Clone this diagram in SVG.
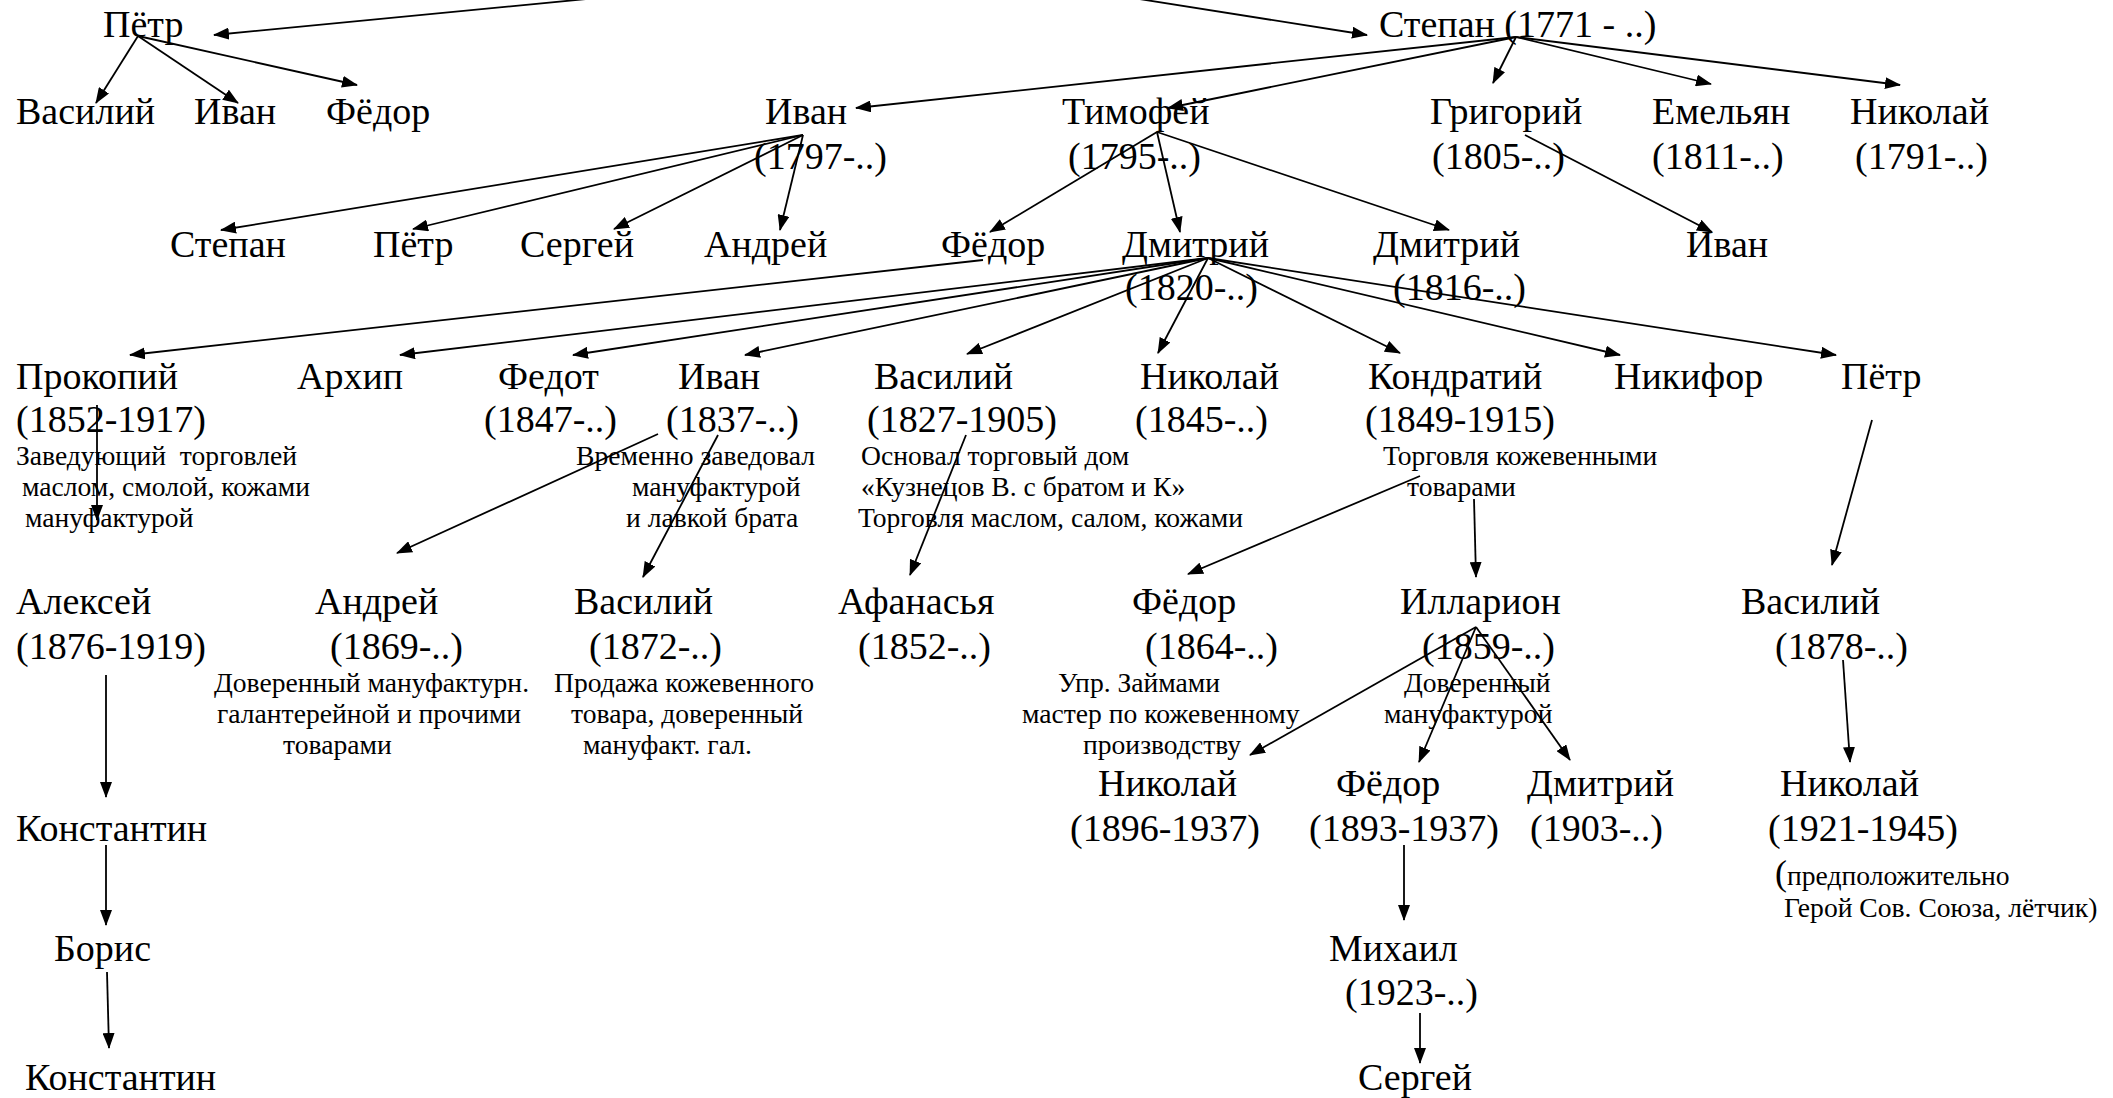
<svg xmlns="http://www.w3.org/2000/svg" width="2113" height="1098" viewBox="0 0 2113 1098">
<defs>
<style>
text{font-family:"Liberation Serif","Times New Roman",serif;fill:#000}
.n{font-size:38px}
.s{font-size:27.6px}
.c line{stroke:#000;stroke-width:1.8;marker-end:url(#ah)}
</style>
<marker id="ah" markerUnits="userSpaceOnUse" markerWidth="16" markerHeight="12" refX="15" refY="6" orient="auto" viewBox="0 0 16 12">
<path d="M0,0 L16,6 L0,12 z" fill="#000"/>
</marker>
</defs>
<rect width="2113" height="1098" fill="#fff"/>

<g class="c" id="connectors">
<line x1="628" y1="-5" x2="214" y2="35"/>
<line x1="1114" y1="-5" x2="1367" y2="35"/>
<line x1="138" y1="36" x2="96" y2="103"/>
<line x1="138" y1="36" x2="238" y2="103"/>
<line x1="138" y1="36" x2="357" y2="85"/>
<line x1="1516" y1="37" x2="856" y2="108"/>
<line x1="1516" y1="37" x2="1168" y2="108"/>
<line x1="1516" y1="37" x2="1493" y2="83"/>
<line x1="1516" y1="37" x2="1711" y2="84"/>
<line x1="1516" y1="37" x2="1900" y2="85"/>
<line x1="803" y1="135" x2="221" y2="230"/>
<line x1="803" y1="135" x2="413" y2="229"/>
<line x1="803" y1="135" x2="614" y2="229"/>
<line x1="803" y1="135" x2="780" y2="230"/>
<line x1="1157" y1="132" x2="990" y2="232"/>
<line x1="1157" y1="132" x2="1180" y2="232"/>
<line x1="1157" y1="132" x2="1449" y2="230"/>
<line x1="1525" y1="135" x2="1712" y2="232"/>
<line x1="983" y1="260" x2="130" y2="355"/>
<line x1="1208" y1="258" x2="400" y2="355"/>
<line x1="1208" y1="258" x2="573" y2="355"/>
<line x1="1208" y1="258" x2="745" y2="355"/>
<line x1="1208" y1="258" x2="967" y2="354"/>
<line x1="1208" y1="258" x2="1158" y2="353"/>
<line x1="1208" y1="258" x2="1400" y2="353"/>
<line x1="1208" y1="258" x2="1620" y2="355"/>
<line x1="1208" y1="258" x2="1836" y2="355"/>
<line x1="97" y1="405" x2="97" y2="520"/>
<line x1="658" y1="434" x2="397" y2="553"/>
<line x1="718" y1="435" x2="643" y2="577"/>
<line x1="966" y1="435" x2="910" y2="575"/>
<line x1="1420" y1="476" x2="1188" y2="574"/>
<line x1="1474" y1="499" x2="1476" y2="577"/>
<line x1="1872" y1="420" x2="1832" y2="565"/>
<line x1="106" y1="675" x2="106" y2="797"/>
<line x1="106" y1="845" x2="106" y2="925"/>
<line x1="107" y1="972" x2="109" y2="1048"/>
<line x1="1476" y1="627" x2="1250" y2="755"/>
<line x1="1476" y1="627" x2="1419" y2="762"/>
<line x1="1476" y1="627" x2="1570" y2="760"/>
<line x1="1404" y1="845" x2="1404" y2="920"/>
<line x1="1420" y1="1013" x2="1420" y2="1063"/>
<line x1="1843" y1="660" x2="1850" y2="762"/>
</g>

<g id="n-petr0"><text class="n" x="103" y="37">Пётр</text></g>
<g id="n-stepan0"><text class="n" x="1379" y="37">Степан (1771 - ..)</text></g>

<g id="n-vasiliy1"><text class="n" x="16" y="124">Василий</text></g>
<g id="n-ivan1a"><text class="n" x="194" y="124">Иван</text></g>
<g id="n-fedor1"><text class="n" x="326" y="124">Фёдор</text></g>
<g id="n-ivan1b"><text class="n" x="765" y="124">Иван</text><text class="n" x="754" y="169">(1797-..)</text></g>
<g id="n-timofey"><text class="n" x="1062" y="124">Тимофей</text><text class="n" x="1068" y="169">(1795-..)</text></g>
<g id="n-grigoriy"><text class="n" x="1430" y="124">Григорий</text><text class="n" x="1432" y="169">(1805-..)</text></g>
<g id="n-emelyan"><text class="n" x="1652" y="124">Емельян</text><text class="n" x="1652" y="169">(1811-..)</text></g>
<g id="n-nikolay1"><text class="n" x="1850" y="124">Николай</text><text class="n" x="1855" y="169">(1791-..)</text></g>

<g id="n-stepan2"><text class="n" x="170" y="257">Степан</text></g>
<g id="n-petr2"><text class="n" x="373" y="257">Пётр</text></g>
<g id="n-sergey2"><text class="n" x="520" y="257">Сергей</text></g>
<g id="n-andrey2"><text class="n" x="704" y="257">Андрей</text></g>
<g id="n-fedor2"><text class="n" x="941" y="257">Фёдор</text></g>
<g id="n-dmitriy2a"><text class="n" x="1122" y="257">Дмитрий</text><text class="n" x="1125" y="300">(1820-..)</text></g>
<g id="n-dmitriy2b"><text class="n" x="1373" y="257">Дмитрий</text><text class="n" x="1393" y="300">(1816-..)</text></g>
<g id="n-ivan2"><text class="n" x="1686" y="257">Иван</text></g>

<g id="n-prokopiy"><text class="n" x="16" y="389">Прокопий</text><text class="n" x="16" y="432">(1852-1917)</text>
<text class="s" x="16" y="465" xml:space="preserve">Заведующий  торговлей</text><text class="s" x="22" y="496">маслом, смолой, кожами</text><text class="s" x="25" y="527">мануфактурой</text></g>
<g id="n-arhip"><text class="n" x="297" y="389">Архип</text></g>
<g id="n-fedot"><text class="n" x="498" y="389">Федот</text><text class="n" x="484" y="432">(1847-..)</text></g>
<g id="n-ivan3"><text class="n" x="678" y="389">Иван</text><text class="n" x="666" y="432">(1837-..)</text>
<text class="s" x="576" y="465">Временно заведовал</text><text class="s" x="632" y="496">мануфактурой</text><text class="s" x="626" y="527">и лавкой брата</text></g>
<g id="n-vasiliy3"><text class="n" x="874" y="389">Василий</text><text class="n" x="867" y="432">(1827-1905)</text>
<text class="s" x="861" y="465">Основал торговый дом</text><text class="s" x="861" y="496">«Кузнецов В. с братом и К»</text><text class="s" x="858" y="527">Торговля маслом, салом, кожами</text></g>
<g id="n-nikolay3"><text class="n" x="1140" y="389">Николай</text><text class="n" x="1135" y="432">(1845-..)</text></g>
<g id="n-kondratiy"><text class="n" x="1368" y="389">Кондратий</text><text class="n" x="1365" y="432">(1849-1915)</text>
<text class="s" x="1383" y="465">Торговля кожевенными</text><text class="s" x="1407" y="496">товарами</text></g>
<g id="n-nikifor"><text class="n" x="1614" y="389">Никифор</text></g>
<g id="n-petr3"><text class="n" x="1841" y="389">Пётр</text></g>

<g id="n-aleksey"><text class="n" x="16" y="614">Алексей</text><text class="n" x="16" y="659">(1876-1919)</text></g>
<g id="n-andrey4"><text class="n" x="315" y="614">Андрей</text><text class="n" x="330" y="659">(1869-..)</text>
<text class="s" x="214" y="692">Доверенный мануфактурн.</text><text class="s" x="217" y="723">галантерейной и прочими</text><text class="s" x="283" y="754">товарами</text></g>
<g id="n-vasiliy4"><text class="n" x="574" y="614">Василий</text><text class="n" x="589" y="659">(1872-..)</text>
<text class="s" x="554" y="692">Продажа кожевенного</text><text class="s" x="571" y="723">товара, доверенный</text><text class="s" x="583" y="754">мануфакт. гал.</text></g>
<g id="n-afanasya"><text class="n" x="838" y="614">Афанасья</text><text class="n" x="858" y="659">(1852-..)</text></g>
<g id="n-fedor4"><text class="n" x="1132" y="614">Фёдор</text><text class="n" x="1145" y="659">(1864-..)</text>
<text class="s" x="1058" y="692">Упр. Займами</text><text class="s" x="1022" y="723">мастер по кожевенному</text><text class="s" x="1083" y="754">производству</text></g>
<g id="n-illarion"><text class="n" x="1400" y="614">Илларион</text><text class="n" x="1422" y="659">(1859-..)</text>
<text class="s" x="1404" y="692">Доверенный</text><text class="s" x="1384" y="723">мануфактурой</text></g>
<g id="n-vasiliy4b"><text class="n" x="1741" y="614">Василий</text><text class="n" x="1775" y="659">(1878-..)</text></g>

<g id="n-konstantin5"><text class="n" x="16" y="841">Константин</text></g>
<g id="n-nikolay5a"><text class="n" x="1098" y="796">Николай</text><text class="n" x="1070" y="841">(1896-1937)</text></g>
<g id="n-fedor5"><text class="n" x="1336" y="796">Фёдор</text><text class="n" x="1309" y="841">(1893-1937)</text></g>
<g id="n-dmitriy5"><text class="n" x="1527" y="796">Дмитрий</text><text class="n" x="1530" y="841">(1903-..)</text></g>
<g id="n-nikolay5b"><text class="n" x="1780" y="796">Николай</text><text class="n" x="1768" y="841">(1921-1945)</text>
<text class="s" x="1775" y="885"><tspan font-size="36">(</tspan>предположительно</text><text class="s" x="1784" y="917">Герой Сов. Союза, лётчик)</text></g>

<g id="n-boris"><text class="n" x="54" y="961">Борис</text></g>
<g id="n-mihail"><text class="n" x="1329" y="961">Михаил</text><text class="n" x="1345" y="1005">(1923-..)</text></g>

<g id="n-konstantin7"><text class="n" x="25" y="1090">Константин</text></g>
<g id="n-sergey7"><text class="n" x="1358" y="1090">Сергей</text></g>
</svg>
